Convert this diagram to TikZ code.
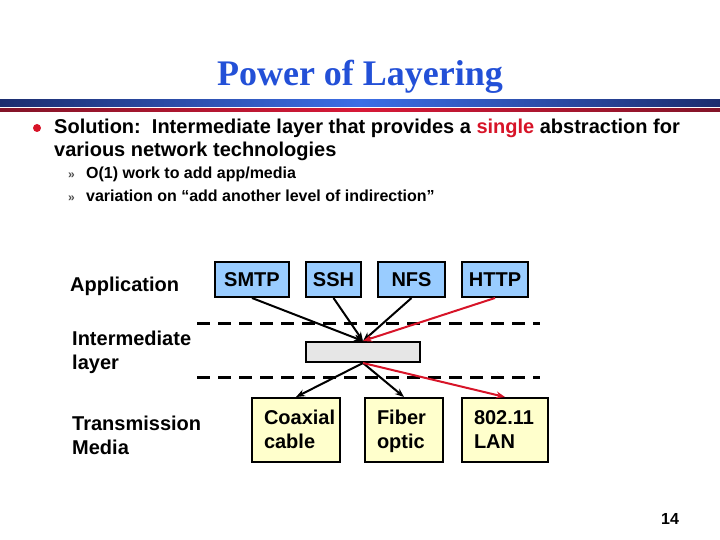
\documentclass[tikz,border=0pt]{standalone}
\usepackage{fontspec}
\setmainfont{Liberation Serif}
\setsansfont{Liberation Sans}
\usepackage{xcolor}
\usetikzlibrary{arrows.meta}
\definecolor{titleblue}{RGB}{35,80,215}
\definecolor{barnavy}{RGB}{28,45,110}
\definecolor{barblue}{RGB}{60,110,230}
\definecolor{barwine}{RGB}{130,20,40}
\definecolor{barred}{RGB}{215,25,55}
\definecolor{hotred}{RGB}{215,20,40}
\definecolor{appfill}{RGB}{153,204,255}
\definecolor{mediafill}{RGB}{255,255,204}
\definecolor{midfill}{RGB}{230,230,230}

\begin{document}
\begin{tikzpicture}[x=1pt,y=-1pt,>={Stealth[length=9pt,width=7pt]},
  txt/.style={font=\sffamily\bfseries\fontsize{20}{24}\selectfont,inner sep=0pt,anchor=base west},
  subtxt/.style={font=\sffamily\bfseries\fontsize{16}{19}\selectfont,inner sep=0pt,anchor=base west},
  appbox/.style={draw,line width=2pt,fill=appfill,inner sep=0pt,minimum height=35pt,
    font=\sffamily\bfseries\fontsize{20}{24}\selectfont},
  mediabox/.style={draw,line width=2pt,fill=mediafill,inner ysep=0pt,inner xsep=12pt,
    text width=#1-24pt,minimum height=64pt,execute at begin node=\rule{0pt}{19.2pt},execute at end node=\strut,
    align=left,font=\sffamily\bfseries\fontsize{20}{24}\selectfont},
  link/.style={->,line width=2pt},
  layerline/.style={line width=3pt,dash pattern=on 13pt off 8pt}]
  \useasboundingbox (0,0) rectangle (720,540);
  % title and bars
  \node[font=\bfseries\fontsize{36}{40}\selectfont,text=titleblue,inner sep=0pt,anchor=base] (title) at (360,86) {Power of Layering};
  \shade[left color=barnavy,right color=barnavy,middle color=barblue] (0,100) rectangle (720,106.5);
  \shade[left color=barwine,right color=barwine,middle color=barred] (0,108.5) rectangle (720,112);
  % bullets
  \fill[hotred] (37,128) circle (4);
  \node[txt] (sol) at (54,134) {Solution:\ \ Intermediate layer that provides a \textcolor{hotred}{single} abstraction for};
  \node[txt] (sol2) at (54,157) {various network technologies};
  \node[subtxt,text=black!70] (m1) at (68,179) {\fontsize{12}{14}\selectfont\char"00BB};
  \node[subtxt,text=black!70] (m2) at (68,202) {\fontsize{12}{14}\selectfont\char"00BB};
  \node[subtxt] (sub1) at (86,179) {O(1) work to add app/media};
  \node[subtxt] (sub2) at (86,202) {variation on “add another level of indirection”};
  % layer names
  \node[txt] (app) at (70,291) {Application};
  \node[txt,anchor=west,align=left] (inter) at (72,352) {Intermediate\\layer};
  \node[txt,anchor=west,align=left] (trans) at (72,435) {Transmission\\Media};
  % dashed layer borders
  \draw[layerline] (197,323.5) -- (540,323.5);
  \draw[layerline] (197,377.5) -- (540,377.5);
  % application boxes
  \node[appbox,minimum width=74pt] (smtp) at (252,279.5) {\raisebox{-2pt}{SMTP}};
  \node[appbox,minimum width=55pt] (ssh) at (333.5,279.5) {SSH};
  \node[appbox,minimum width=67pt] (nfs) at (411.5,279.5) {NFS};
  \node[appbox,minimum width=66pt] (http) at (495,279.5) {HTTP};
  % intermediate layer
  \node[draw,line width=2pt,fill=midfill,minimum width=114pt,minimum height=20pt] (ip) at (363,352) {};
  % media boxes
  \node[mediabox=88pt] (coax) at (296,430) {Coaxial\\cable};
  \node[mediabox=78pt] (fiber) at (404,430) {Fiber\\optic};
  \node[mediabox=86pt] (lan) at (505,430) {802.11\\LAN};
  % connectors
  \draw[link] (smtp.south) -- (ip.north);
  \draw[link] (ssh.south) -- (ip.north);
  \draw[link] (nfs.south) -- (ip.north);
  \draw[link] (ip.south) -- (coax.north);
  \draw[link] (ip.south) -- (fiber.north);
  \draw[link,hotred] (http.south) -- (ip.north);
  \draw[link,hotred] (ip.south) -- (lan.north);
  % page number
  \node[font=\sffamily\bfseries\fontsize{16}{18}\selectfont,inner sep=0pt] (page) at (670,519) {14};
\end{tikzpicture}
\end{document}
